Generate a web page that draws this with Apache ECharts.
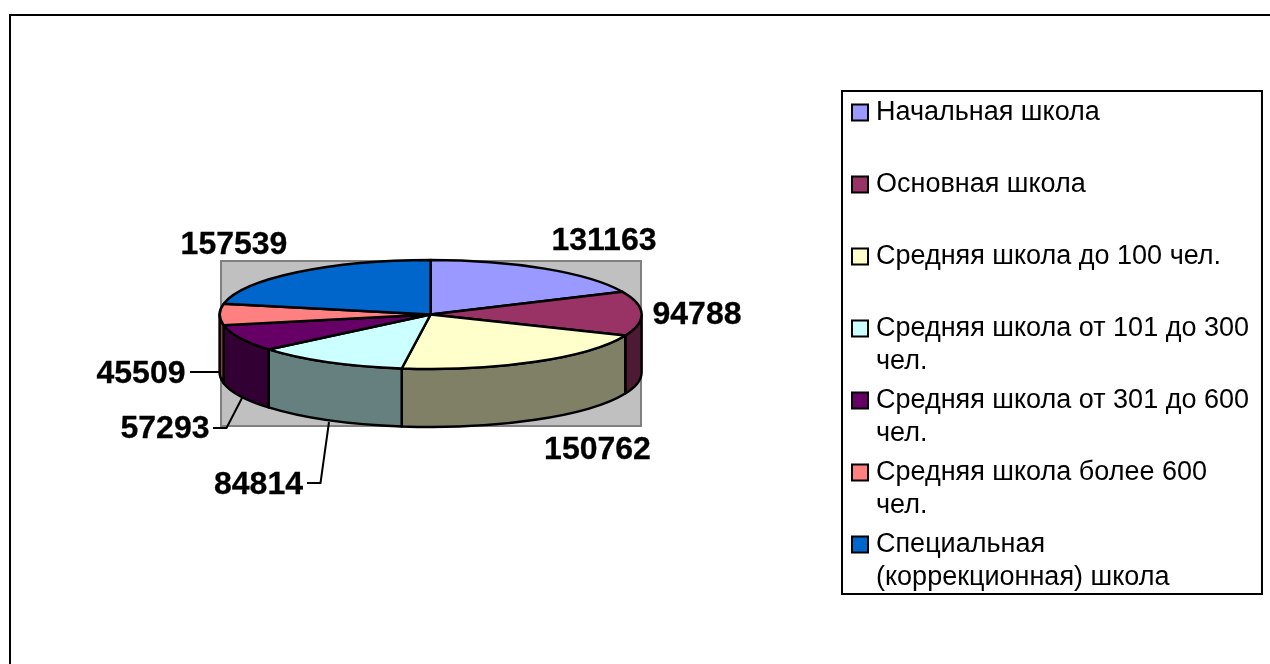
<!DOCTYPE html>
<html>
<head>
<meta charset="utf-8">
<style>
  html, body { margin: 0; padding: 0; background: #fff; }
  #chart { width: 1270px; height: 664px; }
</style>
<script src="https://cdn.jsdelivr.net/npm/echarts@6/dist/echarts.min.js"></script>
</head>
<body>
<div id="chart"></div>
<script>
const categories = ['Начальная школа', 'Основная школа', 'Средняя школа до 100 чел.', 'Средняя школа от 101 до 300 чел.', 'Средняя школа от 301 до 600 чел.', 'Средняя школа более 600 чел.', 'Специальная (коррекционная) школа']
const legendLines = [['Начальная школа'], ['Основная школа'], ['Средняя школа до 100 чел.'], ['Средняя школа от 101 до 300', 'чел.'], ['Средняя школа от 301 до 600', 'чел.'], ['Средняя школа более 600', 'чел.'], ['Специальная', '(коррекционная) школа']]
const values = [131163, 94788, 150762, 84814, 57293, 45509, 157539]
const topColors = ['#9999FF', '#993366', '#FFFFCC', '#CCFFFF', '#660066', '#FF8080', '#0066CC']
const sideColors = ['#4D4D80', '#4D1A33', '#808066', '#668080', '#330033', '#804040', '#003366']

// label centres and leader lines, by slice
const labelPos = [[604, 241], [697, 315], [597.5, 450], [258.5, 485], [165, 429], [141, 374], [234, 245]]
const leaders = [null, null, null, [[307, 483], [320.5, 483], [329, 422]], [[213, 428], [226.5, 428], [242, 398]], [[190, 372], [220, 372]], null]

const cx = 430.6
const cy = 314.5
const rx = 211
const ry = 54.5
const depth = 58

const total = values.reduce((a, b) => a + b, 0)
const starts = []
values.reduce((sum, v, i) => {
  starts[i] = sum / total * 360
  return sum + v
}, 0)

function pt(deg, dy = 0) {
  const a = deg * Math.PI / 180
  return [cx + rx * Math.sin(a), cy + dy - ry * Math.cos(a)]
}

function topPath(a0, a1) {
  const p0 = pt(a0)
  const p1 = pt(a1)
  return `M${cx} ${cy}L${p0[0]} ${p0[1]}A${rx} ${ry} 0 ${a1 - a0 > 180 ? 1 : 0} 1 ${p1[0]} ${p1[1]}Z`
}

// only the front half of the rim can be seen
function sidePath(a0, a1) {
  const from = Math.max(a0, 90)
  const to = Math.min(a1, 270)
  if (to <= from) return null
  const p0 = pt(from)
  const p1 = pt(to)
  const q0 = pt(from, depth)
  const q1 = pt(to, depth)
  return `M${p0[0]} ${p0[1]}A${rx} ${ry} 0 0 1 ${p1[0]} ${p1[1]}L${q1[0]} ${q1[1]}A${rx} ${ry} 0 0 0 ${q0[0]} ${q0[1]}Z`
}

function renderSlice(i, api) {
  const v = api.value(0)
  const a0 = starts[i]
  const a1 = a0 + v / total * 360
  const edge = {stroke: '#000', lineWidth: 2.5, lineJoin: 'round'}
  const children = []
  const side = sidePath(a0, a1)
  if (side) {
    children.push({type: 'path', shape: {pathData: side}, style: {fill: sideColors[i], ...edge}})
  }
  children.push({type: 'path', shape: {pathData: topPath(a0, a1)}, style: {fill: topColors[i], ...edge}})
  if (leaders[i]) {
    children.push({type: 'polyline', shape: {points: leaders[i]}, style: {fill: null, stroke: '#000', lineWidth: 2}})
  }
  children.push({
    type: 'text',
    x: labelPos[i][0],
    y: labelPos[i][1],
    style: {
      text: String(v),
      fill: '#000',
      stroke: '#000',
      lineWidth: 0.3,
      font: 'bold 32px "Liberation Sans", Arial, sans-serif',
      align: 'center',
      verticalAlign: 'middle'
    }
  })
  return {type: 'group', children}
}

const chart = echarts.init(document.getElementById('chart'))
chart.setOption({
  animation: false,
  backgroundColor: '#fff',
  graphic: [
    {type: 'polyline', z: 0, shape: {points: [[10, 664], [10, 15], [1270, 15]]}, style: {fill: null, stroke: '#000', lineWidth: 2}},
    {type: 'rect', z: 0, shape: {x: 221, y: 261, width: 420, height: 165}, style: {fill: '#C0C0C0', stroke: '#808080', lineWidth: 2}}
  ],
  legend: {
    orient: 'vertical',
    left: 842,
    top: 91,
    padding: [-28, 13, 0, 9],
    itemGap: -27,
    itemWidth: 16,
    itemHeight: 16,
    icon: 'rect',
    selectedMode: false,
    backgroundColor: '#fff',
    borderColor: '#000',
    borderWidth: 2,
    borderRadius: 0,
    itemStyle: {borderColor: '#000', borderWidth: 2},
    // blank first line keeps the symbol level with the first text line
    formatter: name => {
      const lines = legendLines[categories.indexOf(name)]
      return '\n' + lines[0] + '\n' + (lines[1] || ' ')
    },
    textStyle: {
      fontFamily: '"Liberation Sans", Arial, sans-serif',
      fontSize: 27,
      lineHeight: 33,
      color: '#000',
      padding: [0, 0, 0, 3]
    },
    data: categories
  },
  series: categories.map((name, i) => ({
    type: 'custom',
    name,
    coordinateSystem: 'none',
    silent: true,
    itemStyle: {color: topColors[i]},
    data: [[values[i]]],
    renderItem: (params, api) => renderSlice(i, api)
  }))
})
</script>
</body>
</html>
